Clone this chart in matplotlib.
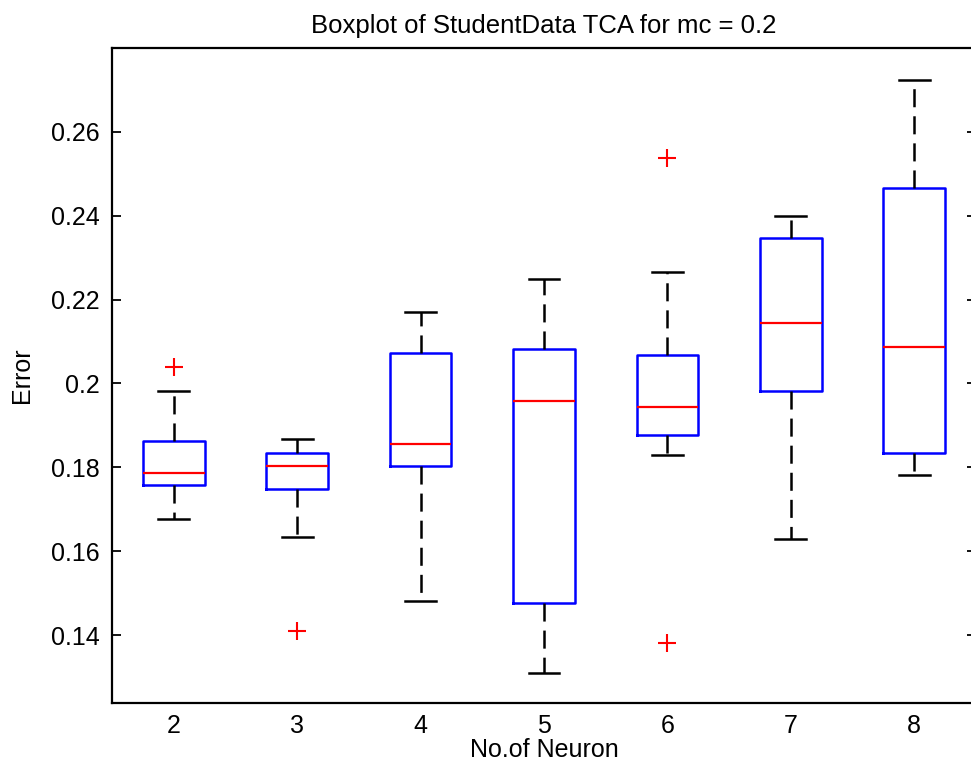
import matplotlib
matplotlib.use("Agg")
from matplotlib import pyplot as plt

plt.rcParams['font.family'] = ['Liberation Sans', 'DejaVu Sans']
plt.rcParams['lines.scale_dashes'] = False

# box statistics per neuron count
neurons = ['2', '3', '4', '5', '6', '7', '8']
whislo = [0.1677, 0.1634, 0.1481, 0.1309, 0.1829, 0.1629, 0.1782]
q1 = [0.1758, 0.1748, 0.1803, 0.1476, 0.1877, 0.1983, 0.1835]
med = [0.1787, 0.1802, 0.1856, 0.1958, 0.1944, 0.2145, 0.2088]
q3 = [0.1863, 0.1834, 0.2073, 0.2082, 0.2068, 0.2346, 0.2466]
whishi = [0.1982, 0.1868, 0.2171, 0.2249, 0.2266, 0.2400, 0.2724]
outliers = [[0.2040], [0.1409], [], [], [0.2538, 0.1381], [], []]

stats = []
for i, lab in enumerate(neurons):
    stats.append(dict(label=lab, whislo=whislo[i], q1=q1[i], med=med[i],
                      q3=q3[i], whishi=whishi[i], fliers=outliers[i]))

fig = plt.figure(figsize=(9.71, 7.66), dpi=100)
ax = fig.add_axes([112 / 971, 1 - 703 / 766, 864 / 971, 655 / 766])

ax.bxp(stats, widths=0.5, capwidths=0.25,
       boxprops=dict(color='blue', linewidth=1.8),
       medianprops=dict(color='red', linewidth=1.6),
       whiskerprops=dict(color='black', linewidth=1.8, linestyle=(0, (13, 6.5))),
       capprops=dict(color='black', linewidth=1.8),
       flierprops=dict(marker='+', markeredgecolor='red', markersize=13,
                       markeredgewidth=1.5, linestyle='none'))

ax.set_xlim(0.5, 7.5)
ax.set_ylim(0.1238, 0.2800)
ax.set_yticks([0.14, 0.16, 0.18, 0.20, 0.22, 0.24, 0.26])
ax.set_yticklabels(['0.14', '0.16', '0.18', '0.2', '0.22', '0.24', '0.26'])

for s in ax.spines.values():
    s.set_linewidth(1.6)
ax.tick_params(axis='y', direction='in', length=6.5, width=1.3, left=True, right=True,
               labelsize=18, pad=9)
ax.tick_params(axis='x', length=0, labelsize=18, pad=8)

ax.set_title('Boxplot of StudentData TCA for mc = 0.2', fontsize=18.5, pad=11)
ax.set_xlabel('No.of Neuron', fontsize=18, labelpad=0)
ax.set_ylabel('Error', fontsize=18, labelpad=12)

fig.savefig('out.png', dpi=100)
